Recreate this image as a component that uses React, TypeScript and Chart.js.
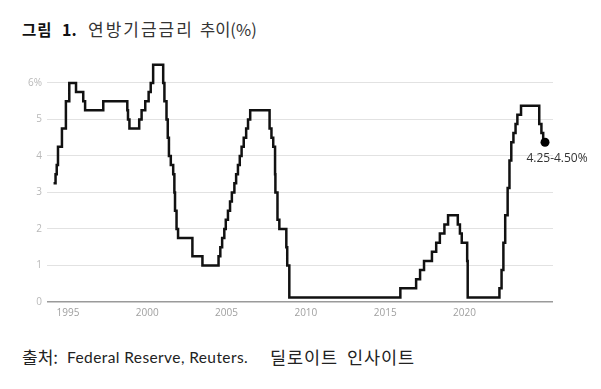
import React, { useEffect, useRef } from "react";
import { Chart, registerables } from "chart.js";

Chart.register(...registerables);

// Fed funds target (midpoint of range after 2008), date of change -> new rate
const changeDates: string[] = [
  "1994-02-04", "1994-03-22", "1994-04-18", "1994-05-17", "1994-08-16", "1994-11-15",
  "1995-02-01", "1995-07-06", "1995-12-19", "1996-01-31", "1997-03-25",
  "1998-09-29", "1998-10-15", "1998-11-17", "1999-06-30", "1999-08-24", "1999-11-16",
  "2000-02-02", "2000-03-21", "2000-05-16",
  "2001-01-03", "2001-01-31", "2001-03-20", "2001-04-18", "2001-05-15", "2001-06-27",
  "2001-08-21", "2001-09-17", "2001-10-02", "2001-11-06", "2001-12-11",
  "2002-11-06", "2003-06-25",
  "2004-06-30", "2004-08-10", "2004-09-21", "2004-11-10", "2004-12-14",
  "2005-02-02", "2005-03-22", "2005-05-03", "2005-06-30", "2005-08-09", "2005-09-20",
  "2005-11-01", "2005-12-13",
  "2006-01-31", "2006-03-28", "2006-05-10", "2006-06-29",
  "2007-09-18", "2007-10-31", "2007-12-11",
  "2008-01-22", "2008-01-30", "2008-03-18", "2008-04-30", "2008-10-08", "2008-10-29", "2008-12-16",
  "2015-12-16", "2016-12-14", "2017-03-15", "2017-06-14", "2017-12-13",
  "2018-03-21", "2018-06-13", "2018-09-26", "2018-12-19",
  "2019-07-31", "2019-09-18", "2019-10-30", "2020-03-03", "2020-03-15",
  "2022-03-16", "2022-05-04", "2022-06-15", "2022-07-27", "2022-09-21", "2022-11-02", "2022-12-14",
  "2023-02-01", "2023-03-22", "2023-05-03", "2023-07-26",
  "2024-09-18", "2024-11-07", "2024-12-18", "2025-01-29",
];
const rates: number[] = [
  3.25, 3.5, 3.75, 4.25, 4.75, 5.5,
  6.0, 5.75, 5.5, 5.25, 5.5,
  5.25, 5.0, 4.75, 5.0, 5.25, 5.5,
  5.75, 6.0, 6.5,
  6.0, 5.5, 5.0, 4.5, 4.0, 3.75,
  3.5, 3.0, 2.5, 2.0, 1.75,
  1.25, 1.0,
  1.25, 1.5, 1.75, 2.0, 2.25,
  2.5, 2.75, 3.0, 3.25, 3.5, 3.75,
  4.0, 4.25,
  4.5, 4.75, 5.0, 5.25,
  4.75, 4.5, 4.25,
  3.5, 3.0, 2.25, 2.0, 1.5, 1.0, 0.125,
  0.375, 0.625, 0.875, 1.125, 1.375,
  1.625, 1.875, 2.125, 2.375,
  2.125, 1.875, 1.625, 1.125, 0.125,
  0.375, 0.875, 1.625, 2.375, 3.125, 3.875, 4.375,
  4.625, 4.875, 5.125, 5.375,
  4.875, 4.625, 4.375, 4.375,
];
const yTicks: number[] = [0, 1, 2, 3, 4, 5, 6];
const xTicks: number[] = [1995, 2000, 2005, 2010, 2015, 2020];
const lastLabel = "4.25-4.50%";
const titleParts: string[] = ["그림", "1.", "연방기금금리", "추이(%)"];
const sourceParts: string[] = ["출처:", "Federal Reserve, Reuters.", "딜로이트", "인사이트"];

function toYear(d: string): number {
  const [y, m, day] = d.split("-").map(Number);
  const start = Date.UTC(y, 0, 1);
  const end = Date.UTC(y + 1, 0, 1);
  return y + (Date.UTC(y, m - 1, day) - start) / (end - start);
}

const FONT = "'Open Sans', 'Noto Sans', sans-serif";
const KFONT = "'Noto Sans CJK KR', 'Noto Sans', sans-serif";
const LFONT = "Lato, 'Noto Sans', sans-serif";

const piece = (left: number, top: number, extra: React.CSSProperties): React.CSSProperties => ({
  position: "absolute",
  left,
  top,
  whiteSpace: "nowrap",
  lineHeight: "20px",
  color: "#222",
  ...extra,
});

export default function App() {
  const ref = useRef<HTMLCanvasElement | null>(null);

  useEffect(() => {
    document.body.style.margin = "0";
    const canvas = ref.current;
    if (!canvas) return;
    const points = changeDates.map((d, i) => ({ x: toYear(d), y: rates[i] }));
    const n = points.length;

    const labelPlugin = {
      id: "lastLabel",
      afterDatasetsDraw(chart: any) {
        const meta = chart.getDatasetMeta(0);
        const el = meta.data[meta.data.length - 1];
        if (!el) return;
        const c = chart.ctx;
        c.save();
        c.font = `12px ${FONT}`;
        c.fillStyle = "#333";
        c.textAlign = "center";
        c.textBaseline = "middle";
        c.fillText(lastLabel, el.x + 12, el.y + 16);
        c.restore();
      },
    };

    const chart = new Chart(canvas, {
      type: "line",
      data: {
        datasets: [
          {
            data: points,
            borderColor: "#111",
            borderWidth: 2.5,
            stepped: "before",
            pointRadius: points.map((_, i) => (i === n - 1 ? 4.5 : 0)),
            pointBackgroundColor: "#000",
            pointBorderWidth: 0,
            pointHoverRadius: 0,
            fill: false,
          },
        ],
      },
      options: {
        animation: false,
        responsive: false,
        devicePixelRatio: 1,
        layout: { padding: { top: 21, right: 48, left: 0, bottom: 0 } },
        plugins: { legend: { display: false }, tooltip: { enabled: false } },
        scales: {
          x: {
            type: "linear",
            min: 1993.68,
            max: 2025.58,
            grid: { display: false, drawTicks: false },
            border: { display: false },
            afterBuildTicks: (s: any) => {
              s.ticks = xTicks.map((v) => ({ value: v }));
            },
            afterFit: (s: any) => {
              s.height = 28;
            },
            ticks: {
              padding: 5,
              color: "#a0a0a0",
              font: { family: FONT, size: 10 },
              maxRotation: 0,
              callback: (v: any) => String(v),
            },
          },
          y: {
            min: 0,
            max: 6.6,
            afterBuildTicks: (s: any) => {
              s.ticks = yTicks.map((v) => ({ value: v }));
            },
            afterFit: (s: any) => {
              s.width = 47;
            },
            grid: {
              drawTicks: false,
              color: (ctx: any) => (ctx.tick && ctx.tick.value === 0 ? "#9a9a9a" : "#e2e2e2"),
              lineWidth: (ctx: any) => (ctx.tick && ctx.tick.value === 0 ? 1.5 : 1),
            },
            border: { display: false },
            ticks: {
              padding: 5,
              color: "#b8b8b8",
              font: { family: FONT, size: 10 },
              callback: (v: any) => (v === 6 ? "6%" : String(v)),
            },
          },
        },
      },
      plugins: [labelPlugin],
    });
    return () => chart.destroy();
  }, []);

  return (
    <div style={{ position: "fixed", left: 0, top: 0, width: 601, height: 389, background: "#fff", overflow: "hidden" }}>
      <div style={piece(22, 19, { fontFamily: KFONT, fontSize: 15.5, letterSpacing: 1, fontWeight: 700, color: "#111" })}>{titleParts[0]}</div>
      <div style={piece(62, 19, { fontFamily: KFONT, fontSize: 16, fontWeight: 700, color: "#111" })}>{titleParts[1]}</div>
      <div style={piece(88, 19, { fontFamily: KFONT, fontSize: 17, letterSpacing: 2, color: "#333" })}>{titleParts[2]}</div>
      <div style={piece(200, 19, { fontFamily: KFONT, fontSize: 16.5, color: "#333" })}>{titleParts[3]}</div>
      <canvas ref={ref} width={601} height={290} style={{ position: "absolute", left: 0, top: 40, width: 601, height: 290 }} />
      <div style={piece(22, 347, { fontFamily: KFONT, fontSize: 17 })}>{sourceParts[0]}</div>
      <div style={piece(67, 347, { fontFamily: LFONT, fontSize: 15.5, letterSpacing: 0.4 })}>{sourceParts[1]}</div>
      <div style={piece(270, 347, { fontFamily: KFONT, fontSize: 17.5, letterSpacing: 0.9 })}>{sourceParts[2]}</div>
      <div style={piece(347, 347, { fontFamily: KFONT, fontSize: 17.5, letterSpacing: 0.9 })}>{sourceParts[3]}</div>
    </div>
  );
}
